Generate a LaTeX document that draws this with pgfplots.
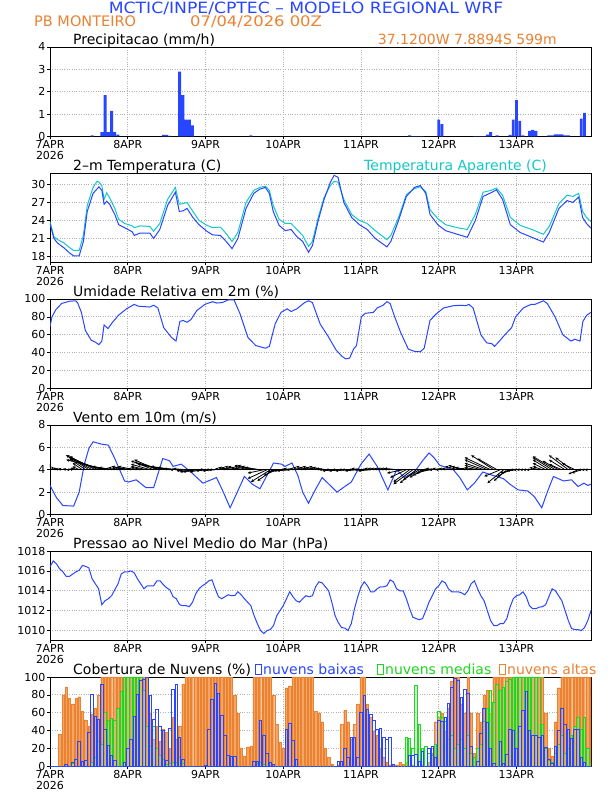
\documentclass[border=0pt]{standalone}
\usepackage{fontspec}
\setmainfont{DejaVu Sans}
\usepackage{pgfplots}
\usepackage{pgfplotstable}
\pgfplotsset{compat=1.18}
\usetikzlibrary{arrows.meta}

\definecolor{wblue}{RGB}{40,70,255}
\definecolor{wcyan}{RGB}{20,200,200}
\definecolor{worange}{RGB}{235,130,50}
\definecolor{wbar}{RGB}{245,165,100}
\definecolor{wgreen}{RGB}{30,215,30}
\definecolor{wlgreen}{RGB}{150,235,150}

\newcommand{\ttl}{\fontsize{14}{16}\selectfont}

\pgfplotsset{
  panel/.style={
    scale only axis, width=541pt, height=89.5pt,
    anchor=south west,
    xmin=0, xmax=167,
    xtick={0,24,...,144},
    xticklabels={{7APR\\2026},8APR,9APR,10APR,11APR,12APR,13APR},
    xticklabel style={align=center, inner sep=0.5pt},
    every tick label/.append style={font=\fontsize{11}{11.5}\selectfont},
    yticklabel style={inner sep=1.5pt},
    /pgf/number format/assume math mode=true,
    /pgf/number format/1000 sep={},
    tick align=outside, xtick pos=bottom, ytick pos=left,
    major tick length=3pt,
    tick style={black, line width=0.6pt},
    grid=major,
    major grid style={gray!60, dotted, line width=0.8pt},
    axis line style={line width=0.9pt},
  },
}

% precipitation (mm/h), hourly
\pgfplotstableread{
h p
13 0.05
16 0.2
17 1.85
18 0.2
19 1.15
20 0.2
21 0.08
35 0.07
36 0.07
37 0.03
40 2.9
41 1.85
42 0.75
43 0.75
44 0.5
62 0.05
111 0.05
112 0.02
113 0.02
114 0.02
115 0.02
120 0.75
121 0.55
131 0.02
132 0.02
133 0.02
134 0.02
135 0.08
136 0.2
138 0.05
142 0.07
143 0.75
144 1.62
145 0.7
146 0.05
148 0.25
149 0.3
150 0.25
154 0.05
155 0.05
156 0.1
157 0.1
158 0.1
159 0.05
160 0.05
164 0.8
165 1.05
}\precip

% wind vectors: base at 4, u in hours, v in m/s
\pgfplotstableread{
h y u v
0 4 0 0.5
1 4 -0.5 0.3
2 4 -1 0.2
3 4 -1.5 0.1
4 4 -1.5 0.1
5 4 -1 0.1
6 4 -1 0
7 4 -1 0.1
8 4 -1.5 0.2
9 4 -2 0.3
10 4 -3 0.6
11 4 -5 1.0
12 4 -7 1.3
13 4 -8 1.3
14 4 -8 1.2
15 4 -9 1.1
16 4 -10 1.0
17 4 -12 0.9
18 4 -8 0.5
19 4 -6 0.3
20 4 -5 0.2
21 4 -4 0.1
22 4 -4 0.2
23 4 -4 0.3
24 4 -5 0.3
25 4 -5 0.2
26 4 -5 0.3
27 4 -5 0.1
28 4 -4 0.1
29 4 -4 0.2
30 4 -5 0.3
31 4 -6 0.5
32 4 -7 0.8
33 4 -7 0.9
34 4 -8 0.7
35 4 -8 0.6
36 4 -9 0.5
37 4 -8 0.4
38 4 -7 0.3
39 4 -6 0.2
40 4 -5 0.1
41 4 -4 0
42 4 -4 0.1
43 4 -4 -0.1
44 4 -4 -0.2
45 4 -4 -0.2
46 4 -4 -0.1
47 4 -4 -0.2
48 4 -3 -0.1
49 4 -3 0
50 4 -4 0
51 4 -4 -0.1
52 4 -4 0
53 4 -4 0
54 4 -3 0.1
55 4 -3 0.2
56 4 -4 0.2
57 4 -4 0.2
58 4 -4 0.3
59 4 -4 0.3
60 4 -4 0.2
61 4 -4 0.3
62 4 -5 0.4
63 4 -5 0.4
64 4 -5 0.3
65 4 -5 0.2
66 4 -5 -0.3
67 4 -6 -0.8
68 4 -6 -1.1
69 4 -5 -1.0
70 4 -4 -0.5
71 4 -4 -0.2
72 4 -4 -0.1
73 4 -4 -0.1
74 4 -4 -0.1
75 4 -4 0
76 4 -4 0.1
77 4 -4 0
78 4 -4 0.1
79 4 -4 0.2
80 4 -4 0.3
81 4 -4 0.2
82 4 -4 0.3
83 4 -4 0.2
84 4 -4 0.3
85 4 -4 0.2
86 4 -4 0.1
87 4 -4 0
88 4 -4 -0.1
89 4 -4 0
90 4 -4 -0.1
91 4 -4 0
92 4 -4 -0.1
93 4 -4 0
94 4 -4 0
95 4 -4 -0.1
96 4 -4 0
97 4 -4 0.1
98 4 -4 0
99 4 -4 -0.1
100 4 -4 0
101 4 -4 0.1
102 4 -4 0.1
103 4 -4 0.1
104 4 -4 0.1
105 4 -4 0.1
106 4 -4 0.1
107 4 -4 0.1
108 4 -5 0.1
109 4 -5 -0.3
110 4 -5 -0.7
111 4 -5 -1.1
112 4 -6 -1.3
113 4 -5 -1.2
114 4 -5 -0.9
115 4 -4 -0.7
116 4 -4 -0.5
117 4 -4 -0.3
118 4 -4 -0.1
119 4 -4 0
120 4 -4 0.1
121 4 -4 0
122 4 -4 0.1
123 4 -4 0
124 4 -4 0.1
125 4 -4 0.1
126 4 -4 0.3
127 4 -4 0.4
128 4 -4 0.3
129 4 -4 0.2
130 4 -3 0.1
131 4 -3 0.1
132 4 -4 0.2
133 4 -5 0.4
134 4 -6 0.6
135 4 -7 0.9
136 4 -8 1.1
137 4 -7 1.3
138 4 -6 1.0
139 4 -5 -0.6
140 4 -5 -1.2
141 4 -4 -1.0
142 4 -4 -0.6
143 4 -4 -0.3
144 4 -3 -0.1
145 4 -3 0
146 4 -3 0
147 4 -3 0
148 4 -3 0
149 4 -3 0
150 4 -3 0
151 4 -3 0.2
152 4 -3 0.3
153 4 -4 0.6
154 4 -5 0.9
155 4 -6 1.1
156 4 -7 1.2
157 4 -5 0.8
158 4 -4 0.5
159 4 -5 0.9
160 4 -6 1.3
161 4 -5 1.1
162 4 -4 0.6
163 4 -3 -0.4
164 4 -3 -0.3
165 4 -2 0
166 4 -2 0
167 4 -2 0
}\wind

% cloud cover (%), hourly: low, medium, high
\pgfplotstableread{
h low mid high
0 0 0 0
1 0 0 0
2 0 0 0
3 0 0 36
4 0 0 80
5 2 0 89
6 0 0 76
7 5 3 70
8 8 0 76
9 28 0 78
10 6 0 62
11 7 0 52
12 38 0 45
13 81 5 58
14 56 10 65
15 53 28 80
16 92 25 100
17 41 61 100
18 24 52 100
19 12 54 100
20 7 52 100
21 0 65 100
22 0 84 100
23 5 100 100
24 20 100 100
25 30 100 100
26 56 100 100
27 81 100 100
28 96 100 100
29 97 85 100
30 100 45 100
31 79 22 60
32 53 45 30
33 64 20 45
34 45 12 28
35 40 8 42
36 7 2 38
37 43 3 20
38 86 5 55
39 92 5 30
40 33 10 45
41 8 4 92
42 0 0 100
43 0 0 100
44 0 0 100
45 0 0 100
46 0 0 100
47 0 0 100
48 1 0 100
49 41 0 100
50 75 0 100
51 93 0 100
52 82 0 100
53 57 0 100
54 35 0 100
55 12 0 100
56 11 0 100
57 11 0 80
58 0 0 60
59 0 0 20
60 0 0 12
61 0 0 22
62 0 0 23
63 6 0 100
64 6 3 100
65 52 5 100
66 35 2 100
67 15 0 100
68 5 0 100
69 2 0 80
70 0 0 47
71 0 0 27
72 0 0 20
73 41 0 88
74 48 0 90
75 29 0 100
76 8 0 100
77 0 0 100
78 0 0 100
79 0 0 100
80 0 0 100
81 0 0 100
82 0 0 62
83 0 0 60
84 0 0 50
85 0 0 20
86 0 0 10
87 0 0 3
88 0 0 0
89 6 0 2
90 6 0 47
91 20 0 63
92 10 0 50
93 33 0 30
94 33 0 47
95 10 0 70
96 60 0 100
97 79 0 100
98 64 0 70
99 58 0 55
100 51 0 40
101 42 0 35
102 43 0 20
103 32 0 10
104 30 0 5
105 32 0 2
106 2 0 3
107 0 0 2
108 0 0 5
109 0 0 3
110 0 32 5
111 12 31 0
112 12 20 2
113 13 91 0
114 6 47 0
115 17 20 2
116 0 22 0
117 20 15 5
118 22 12 15
119 10 25 50
120 52 62 55
121 50 55 60
122 55 50 40
123 70 30 65
124 88 35 95
125 98 20 100
126 96 25 100
127 77 30 70
128 86 20 60
129 82 35 100
130 23 15 60
131 0 10 15
132 6 20 60
133 37 25 50
134 65 50 80
135 49 65 85
136 20 85 60
137 3 72 100
138 0 92 100
139 28 85 100
140 3 88 100
141 14 95 100
142 42 97 100
143 40 100 100
144 20 100 100
145 45 100 100
146 63 100 100
147 84 100 100
148 40 100 100
149 35 100 100
150 35 100 100
151 33 100 100
152 35 47 100
153 21 20 60
154 8 7 20
155 3 5 12
156 22 15 50
157 40 25 88
158 65 35 100
159 47 15 100
160 42 20 100
161 31 35 100
162 42 45 100
163 42 55 100
164 10 42 100
165 5 55 100
166 0 20 100
167 0 5 100
}\cloud

\begin{document}
\begin{tikzpicture}
\fill[white] (0pt,0pt) rectangle (612pt,792pt);
\useasboundingbox (0pt,0pt) rectangle (612pt,792pt);

% header
\node[wblue, font=\fontsize{15.5}{17}\selectfont, anchor=base, inner sep=0pt] at (306pt,778.5pt) {\scalebox{1.11}[1]{MCTIC/INPE/CPTEC – MODELO REGIONAL WRF}};
\node[worange, font=\fontsize{14.5}{16}\selectfont, anchor=base west, inner sep=0pt] at (34pt,765pt) {PB MONTEIRO};
\node[worange, font=\fontsize{14.5}{16}\selectfont, anchor=base west, inner sep=0pt] at (190pt,765pt) {\scalebox{1.13}[1]{07/04/2026 00Z}};
\node[worange, font=\ttl, anchor=base east, inner sep=0pt] at (557pt,747.5pt) {37.1200W 7.8894S 599m};

% panel titles
\node[font=\ttl, anchor=base west, inner sep=0pt] at (73pt,747.5pt) {Precipitacao (mm/h)};
\node[font=\ttl, anchor=base west, inner sep=0pt] at (73pt,621.5pt) {2–m Temperatura (C)};
\node[wcyan, font=\ttl, anchor=base west, inner sep=0pt] at (364pt,621.5pt) {Temperatura Aparente (C)};
\node[font=\ttl, anchor=base west, inner sep=0pt] at (73pt,495.5pt) {Umidade Relativa em 2m (\%)};
\node[font=\ttl, anchor=base west, inner sep=0pt] at (73pt,369.5pt) {Vento em 10m (m/s)};
\node[font=\ttl, anchor=base west, inner sep=0pt] at (73pt,243.5pt) {Pressao ao Nivel Medio do Mar (hPa)};
\node[font=\ttl, anchor=base west, inner sep=0pt] at (73pt,117.5pt) {Cobertura de Nuvens (\%)};
\draw[wblue, line width=0.9pt] (255pt,117.5pt) rectangle ++(6pt,10.5pt);
\node[wblue, font=\ttl, anchor=base west, inner sep=0pt] at (263pt,117.5pt) {nuvens baixas};
\draw[wgreen, line width=0.9pt] (377pt,117.5pt) rectangle ++(6pt,10.5pt);
\node[wgreen, font=\ttl, anchor=base west, inner sep=0pt] at (385pt,117.5pt) {nuvens medias};
\draw[worange, line width=0.9pt] (499pt,117.5pt) rectangle ++(6pt,10.5pt);
\node[worange, font=\ttl, anchor=base west, inner sep=0pt] at (507pt,117.5pt) {nuvens altas};

% 1 precipitation
\begin{axis}[panel, at={(50pt,655.5pt)}, ymin=0, ymax=4, ytick={0,1,2,3,4}]
\addplot[ybar, bar shift=0pt, bar width=2.9pt, fill=wblue, draw=none] table[x=h,y=p] \precip;
\end{axis}

% 2 temperature
\begin{axis}[panel, at={(50pt,529.5pt)}, ymin=17, ymax=31.9, ytick={18,21,24,27,30}]
\addplot[wcyan, line width=1pt] coordinates {
(0,23.8) (1.2,21.3) (2.4,20.8) (4.2,20.3) (6,19.5) (7.3,19) (9,19) (10.3,21.5)
(11.5,26.5) (13.3,29.5) (14.5,30.5) (15.1,30.4) (16,29.8) (16.7,27.5) (17.5,28.6)
(18.4,27.8) (20,26) (21.2,24.2) (23,23.5) (25.4,23.1) (26,22.8) (27.8,23.1)
(30.8,23.0) (32,22.2) (33.9,23.5) (36.3,27.5) (38.7,29.5) (39.9,26.7) (41.1,26.8)
(42.3,27) (44.1,25.5) (46,24) (48.4,23.2) (50.2,22.8) (52.6,22.9) (54.4,21.8)
(56.2,20.5) (58,22) (60.5,27) (62.9,29) (64.7,29.5) (66.5,29.7) (67.7,29)
(68.9,26.5) (70.7,24.2) (72.6,23.5) (74.4,23.5) (76.2,22.5) (78,21.5) (79.8,19.7)
(81,20.5) (82.8,24.5) (84.6,27.8) (86.5,29.8) (87.7,30.5) (88.9,30.4) (90.7,27.5)
(93.1,25) (95.5,24) (97.9,23.5) (100.4,22.3) (104,20.8) (105.2,21.5) (107.6,24.5)
(110,28.3) (112.5,29.3) (114.3,29.6) (116,28.8) (117.3,25.8) (119.7,24.3)
(122.1,23.3) (125.7,22.8) (128.8,22.5) (131.3,25) (133.7,28.7) (136.1,29.0)
(137.8,29.4) (139.7,28.2) (142.1,24.5) (145.1,23.2) (148.7,22.5) (152.3,21.7)
(154.1,23) (157.1,26.8) (159.6,28.2) (161.4,28) (163.2,28.5) (164.4,25.5)
(165.6,24.5) (167,23.8)
};
\addplot[wblue, line width=1pt] coordinates {
(0,23.5) (1.2,21) (2.4,20.2) (4.2,19.5) (6,18.6) (7.3,18.1) (9,18.1) (10.3,20.5)
(11.5,25.5) (13.3,28.5) (15.1,29.6) (16,29.0) (16.7,26.7) (17.5,27.2) (18.4,26.7)
(20,25) (21.2,23.3) (23,22.8) (25.4,22.1) (26,21.5) (27.8,21.9) (30.8,21.9)
(32,21.0) (33.9,22.5) (36.3,26.5) (38.7,28.7) (39.9,25.5) (41.1,25.6) (42.3,26)
(44.1,24.5) (46,23.3) (48.4,22.2) (50.2,21.6) (52.6,21.5) (54.4,20.5) (56.2,19.3)
(58,21) (60.5,26) (62.9,28.5) (64.7,29.2) (66.5,29.5) (67.7,28.5) (68.9,25.5)
(70.7,23.2) (72.6,22.3) (74.4,22.5) (76.2,21.3) (78,20.5) (79.8,18.7) (81,19.8)
(82.8,24) (84.6,27.5) (86.5,30.3) (87.7,31.5) (88.9,31.2) (90.7,27) (93.1,24.5)
(95.5,23.3) (97.9,22.5) (100.4,21) (104,19.6) (105.2,20.5) (107.6,24) (110,28)
(112.5,29.5) (114.3,29.8) (116,28.5) (117.3,25) (119.7,23.3) (122.1,22.3)
(125.7,21.7) (128.8,21.2) (131.3,24) (133.7,28) (136.1,28.6) (137.8,29.1)
(139.7,27.5) (142.1,23.3) (145.1,22) (148.7,21.2) (152.3,20.4) (154.1,22)
(157.1,26) (159.6,27.3) (161.4,27) (163.2,27.9) (164.4,24.5) (165.6,23.5) (167,22.7)
};
\end{axis}

% 3 relative humidity
\begin{axis}[panel, at={(50pt,403.5pt)}, ymin=0, ymax=100, ytick={0,20,...,100}]
\addplot[wblue, line width=1pt] coordinates {
(0,69) (0.6,80) (1.8,88) (3.6,95) (6,97.5) (7.9,98) (8.5,96) (9.7,85) (10.9,65)
(12.7,54) (13.9,52) (15.1,49) (16,53) (16.7,71) (17.9,67) (19.3,74) (21.2,82)
(23.6,89) (26,94) (27.2,92) (30.8,91) (32,93) (33.3,90) (35.1,68) (37.5,57)
(38.9,53) (40.1,75) (41.1,76) (42.3,74) (43.5,77) (45.3,87) (47.8,94) (50.2,97)
(51.4,95.5) (53.2,96) (55,99) (56.8,99) (58.6,84) (61.1,57) (63.5,48) (66.5,45)
(67.7,47) (69.5,72) (71.3,85) (73.2,89) (74.4,86) (76.2,89) (78.6,96) (79.8,98)
(81,96) (83.4,72) (85.9,58) (88.3,43) (90.1,36) (91.3,33) (92.5,34) (93.7,44)
(94.6,48) (96.1,80) (97.3,84) (99.8,85) (101,90) (102.8,93) (104,97) (105,95)
(106.4,80) (108.2,63) (110.6,44) (112.5,41.5) (114.3,41) (115.5,45) (117.3,76)
(119.1,83) (121.5,90) (124.5,92.5) (126.9,93) (128.4,92.5) (129.3,94) (130.6,90)
(133,60) (134.8,51) (136.4,50) (137.2,47) (138.5,52) (140.4,60) (142.5,68)
(143.7,80) (146.1,90) (148.5,94) (149.7,94) (152.3,98) (153.5,95) (155.9,80)
(158.3,60) (160.8,53) (162,55) (163.6,53) (164.5,75) (165.7,82) (167,85)
};
\end{axis}

% 4 wind
\begin{axis}[panel, at={(50pt,277.5pt)}, ymin=0, ymax=8, ytick={0,2,4,6,8}]
\addplot[wblue, line width=1pt] coordinates {
(0,2.6) (2,1.5) (4,0.8) (7.3,0.75) (9,2.0) (10.6,4.5) (12,5.9) (13.3,6.5)
(15.7,6.3) (18,6.2) (20,5.0) (23,3.0) (24.2,2.9) (26.6,3.1) (29.6,2.4) (32,2.4)
(34.8,5.0) (36.9,4.8) (38,4.3) (40.5,4.5) (43.5,3.8) (47.2,2.8) (51.4,3.3)
(53.5,2.0) (55.6,0.6) (57.5,1.8) (60,3.4) (62.5,2.7) (64.8,2.3) (67,3.5) (69,4.6)
(71.5,4.5) (72.5,4.3) (74.7,4.6) (76.5,3.5) (78,2.0) (79.8,1.0) (81.5,2.0)
(84,3.3) (86.5,2.6) (88.6,2.0) (91,2.5) (93,2.9) (96,4.5) (98.5,5.4) (101,4.3)
(104.3,2.2) (107,4.0) (109.4,3.3) (110.5,3.5) (112.5,3.8) (115,4.8) (117,5.5)
(118.5,5.1) (120.3,4.4) (124.5,4.0) (126.5,3.3) (128.8,2.2) (131,2.8)
(133.6,3.8) (136.6,3.5) (140,3.2) (142,2.7) (144.5,2.2) (147.5,2.1) (149.5,1.6)
(151.8,0.6) (153.5,2.0) (155.4,3.4) (158.5,3.0) (161,3.1) (163,2.5) (164.8,2.8)
(166,2.6) (167,2.7)
};
\addplot[black, line width=1.3pt] coordinates {(0,4) (167,4)};
\addplot[black, line width=0.8pt, -{Stealth[length=3.2pt,width=2.8pt]},
  quiver={u=\thisrow{u}, v=\thisrow{v}}] table[x=h,y=y] \wind;
\end{axis}

% 5 pressure
\begin{axis}[panel, at={(50pt,151.5pt)}, ymin=1009, ymax=1018, ytick={1010,1012,...,1018}]
\addplot[wblue, line width=1pt] coordinates {
(0,1016.4) (1,1017.0) (2,1016.7) (3,1016.2) (4,1015.9) (5,1015.45) (6,1015.45)
(8,1015.9) (9,1016.05) (10,1016.55) (11,1016.45) (12,1016.3) (13,1015.2)
(14,1014.7) (15,1014.2) (16,1012.6) (17,1013.0) (18,1013.2) (19,1013.5)
(20,1014.1) (21,1014.7) (22,1015.7) (23,1015.9) (24,1015.9) (25,1016.0)
(26,1015.8) (27,1015.2) (28,1014.7) (29,1014.2) (30,1014.5) (31,1014.5)
(32,1014.5) (33,1015.0) (34,1015.0) (35,1014.6) (36,1014.3) (37,1014.1)
(38,1013.4) (39,1013.2) (40,1012.6) (41,1012.5) (42,1012.5) (43,1012.4)
(44,1012.85) (45,1013.7) (46,1014.2) (47,1014.5) (48,1014.7) (49,1015.0)
(50,1015.1) (51,1014.2) (52,1013.4) (53,1013.2) (54,1013.4) (55,1013.6)
(56,1013.5) (57,1013.5) (58,1013.9) (59,1013.6) (60,1013.2) (61,1012.85)
(62,1012.5) (63,1011.5) (64,1010.7) (65,1010.0) (66,1009.7) (67,1010.0)
(68,1010.1) (69,1010.5) (70,1011.5) (71,1012.0) (72,1012.5) (73,1013.2)
(74,1013.9) (75,1013.4) (76,1013.0) (77,1012.85) (78,1013.2) (79,1013.5)
(80,1013.4) (81,1013.5) (82,1014.4) (83,1014.9) (84,1014.8) (85,1014.4)
(86,1014.0) (87,1012.85) (88,1011.5) (89,1010.8) (90,1010.3) (91,1010.25)
(92,1010.0) (93,1010.7) (94,1012.2) (95,1013.4) (96,1014.4) (97,1014.9)
(98,1014.5) (99,1013.9) (100,1013.9) (101,1014.2) (102,1014.4) (103,1014.4)
(104,1014.5) (105,1015.1) (106,1014.9) (107,1014.2) (108,1014.0) (109,1014.0)
(110,1013.2) (111,1012.2) (112,1011.35) (113,1011.2) (114,1011.1) (115,1011.2)
(116,1012.0) (117,1012.85) (118,1013.5) (119,1014.2) (120,1014.5) (121,1015.0)
(122,1014.8) (123,1014.2) (124,1013.9) (125,1013.9) (126,1013.9) (127,1013.8)
(128,1013.6) (129,1014.0) (130,1014.7) (131,1015.0) (132,1014.2) (133,1013.5)
(134,1013.0) (135,1012.0) (136,1011.0) (137,1010.5) (138,1010.5) (139,1010.7)
(140,1010.7) (141,1011.2) (142,1012.35) (143,1013.2) (144,1013.5) (145,1013.6)
(146,1013.9) (147,1013.4) (148,1012.5) (149,1012.2) (150,1012.2) (151,1012.35)
(152,1012.4) (153,1012.6) (154,1013.4) (155,1014.2) (156,1014.0) (157,1013.5)
(158,1013.0) (159,1012.0) (160,1011.0) (161,1010.2) (162,1010.1) (163,1010.1)
(164,1010.0) (165,1010.3) (166,1011.0) (167,1012.0)
};
\end{axis}

% 6 cloud cover
\begin{axis}[panel, at={(50pt,25.5pt)}, ymin=0, ymax=100, ytick={0,20,...,100}]
\addplot[ybar, bar shift=0pt, bar width=2.3pt, fill=wbar, draw=worange, line width=0.3pt] table[x=h,y=high] \cloud;
\addplot[ybar, bar shift=0pt, bar width=2.6pt, draw=wgreen, fill=wlgreen, fill opacity=0.35, line width=0.8pt] table[x=h,y=mid] \cloud;
\addplot[ybar, bar shift=0pt, bar width=2.6pt, draw=wblue, fill=none, line width=0.8pt] table[x=h,y=low] \cloud;
\end{axis}
\end{tikzpicture}
\end{document}
